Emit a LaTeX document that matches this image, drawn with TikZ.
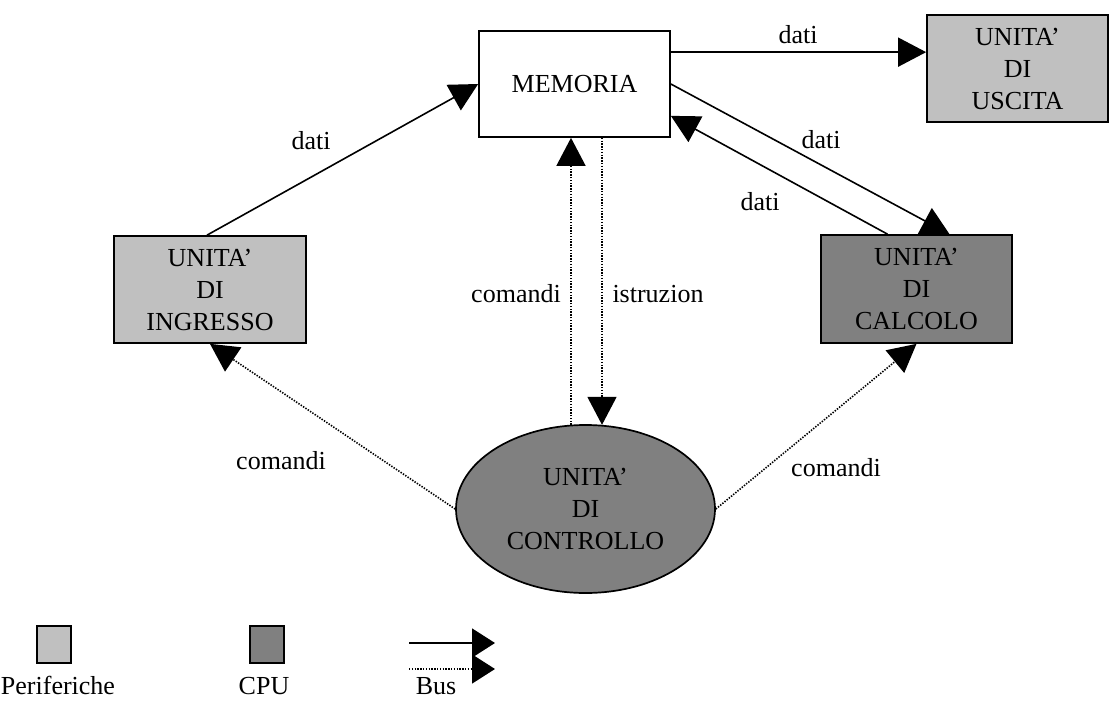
\documentclass[tikz,border=0pt]{standalone}
\usepackage{fontspec}
\setmainfont{Liberation Serif}
\usetikzlibrary{arrows.meta,shapes.geometric,calc,backgrounds}
\definecolor{perif}{HTML}{C0C0C0}
\definecolor{cpucol}{HTML}{808080}
\begin{document}
\begin{tikzpicture}[x=1pt,y=-1pt,
  every node/.style={font=\fontsize{26}{32}\selectfont},
  unitbox/.style={draw,line width=1.7pt,inner sep=0pt,align=center},
  dat/.style={line width=1.6pt,-{Triangle[length=28pt,width=29pt]}},
  cmd/.style={line width=1.6pt,dash pattern=on 1.4pt off 1.4pt,-{Triangle[length=28pt,width=29pt]}},
  lbl/.style={anchor=base,inner sep=0pt}]
\useasboundingbox (0,0) rectangle (1109,704);
% nodes
\node[unitbox,fill=white,minimum width=191pt,minimum height=106pt] (mem) at (574.5,84) {MEMORIA};
\node[unitbox,fill=perif,minimum width=181pt,minimum height=107pt] (usc) at (1017.5,68.5) {UNITA'\\DI\\USCITA};
\node[unitbox,fill=perif,minimum width=192pt,minimum height=107pt] (ing) at (210,289.5) {UNITA'\\DI\\INGRESSO};
\node[unitbox,fill=cpucol,minimum width=191pt,minimum height=108pt] (calc) at (916.5,289) {UNITA'\\DI\\CALCOLO};
\node[unitbox,ellipse,fill=cpucol,minimum width=259pt,minimum height=168pt] (ctrl) at (585.5,509) {UNITA'\\DI\\CONTROLLO};
% connectors
\begin{scope}[on background layer]
\fill[white] (0,0) rectangle (1109,704);
\draw[dat] ($(mem.north east)+(0,22)$) -- ($(usc.north west)+(0,38)$);
\draw[dat] ($(ing.north)+(-3,0)$) -- (mem.west);
\draw[dat] (mem.east) -- ($(calc.north)+(33,0)$);
\draw[dat] ($(calc.north)+(-29,0)$) -- ($(mem.south east)+(0,-22)$);
\draw[cmd] ($(ctrl.north)+(-14.5,0.6)$) -- ($(mem.south)+(-3.5,0)$);
\draw[cmd] ($(mem.south)+(27.5,0)$) -- ($(ctrl.north)+(16.5,0.7)$);
\draw[cmd] (ctrl.west) -- (ing.south);
\draw[cmd] (ctrl.east) -- (calc.south);
\end{scope}
% labels
\node[lbl] (l1) at (798,43) {dati};
\node[lbl] (l2) at (311,149) {dati};
\node[lbl] (l3) at (821,148) {dati};
\node[lbl] (l4) at (760,210) {dati};
\node[lbl] (l5) at (516,302) {comandi};
\node[lbl] (l6) at (658,302) {istruzion};
\node[lbl] (l7) at (281,469) {comandi};
\node[lbl] (l8) at (836,476) {comandi};
% legend
\node[draw,line width=1.7pt,fill=perif,inner sep=0pt,minimum width=34pt,minimum height=37pt] (lp) at (54,644.5) {};
\node[draw,line width=1.7pt,fill=cpucol,inner sep=0pt,minimum width=34pt,minimum height=37pt] (lc) at (267,644.5) {};
\coordinate (b1) at (409,643);
\coordinate (b2) at (495,643);
\coordinate (b3) at (409,669);
\coordinate (b4) at (495,669);
\draw[line width=1.6pt,-{Triangle[length=23pt,width=29pt]}] (b1) -- (b2);
\draw[line width=1.6pt,dash pattern=on 1.4pt off 1.4pt,-{Triangle[length=23pt,width=29pt]}] (b3) -- (b4);
\node[lbl] (tp) at (58,694) {Periferiche};
\node[lbl] (tc) at (264,694) {CPU};
\node[lbl] (tb) at (436,694) {Bus};
\end{tikzpicture}
\end{document}
